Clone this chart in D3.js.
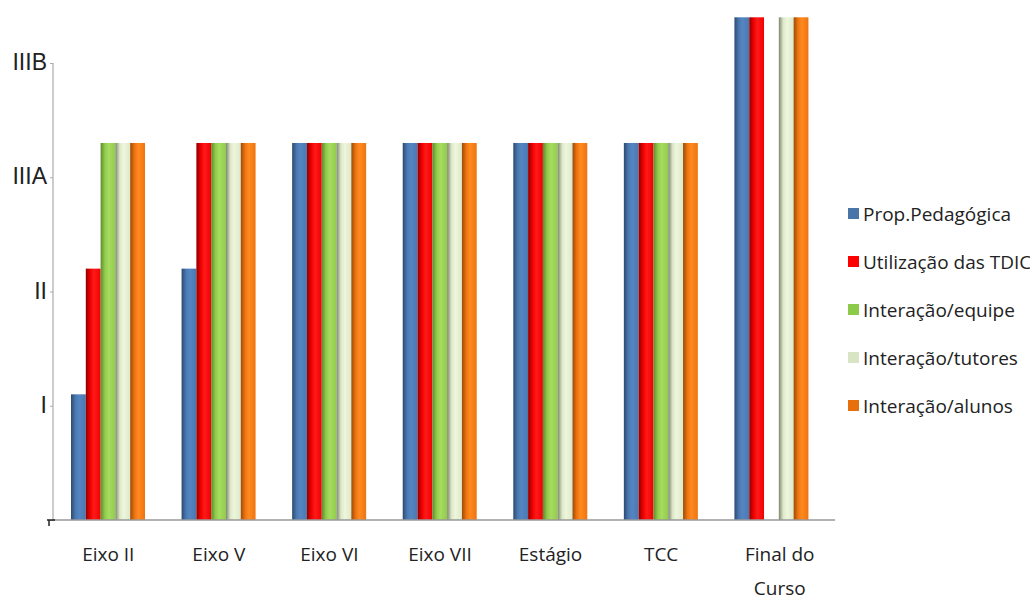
<!DOCTYPE html>
<html>
<head>
<meta charset="utf-8">
<script src="https://cdn.jsdelivr.net/npm/d3@7"></script>
<style>
  html, body { margin: 0; padding: 0; background: #fff; }
  svg { display: block; }
  text { font-family: "Open Sans", sans-serif; fill: #222; }
  .level { font-family: "Liberation Sans", Arial, sans-serif; }
</style>
</head>
<body>
<svg id="chart" width="1030" height="601"></svg>
<script>
// Course stages
const categories = ["Eixo II", "Eixo V", "Eixo VI", "Eixo VII", "Estágio", "TCC", "Final do Curso"];
const categoryLines = [["Eixo II"], ["Eixo V"], ["Eixo VI"], ["Eixo VII"], ["Estágio"], ["TCC"], ["Final do", "Curso"]];

// Series names
const seriesNames = ["Prop.Pedagógica", "Utilização das TDIC", "Interação/equipe", "Interação/tutores", "Interação/alunos"];

// Level reached by each aspect at each stage
const propPedagogica   = [1.1, 2.2, 3.3, 3.3, 3.3, 3.3, 4.4];
const utilizacaoTdic   = [2.2, 3.3, 3.3, 3.3, 3.3, 3.3, 4.4];
const interacaoEquipe  = [3.3, 3.3, 3.3, 3.3, 3.3, 3.3, 0];
const interacaoTutores = [3.3, 3.3, 3.3, 3.3, 3.3, 3.3, 4.4];
const interacaoAlunos  = [3.3, 3.3, 3.3, 3.3, 3.3, 3.3, 4.4];

// Axis levels
const tickValues = [1, 2, 3, 4];
const tickLabels = ["I", "II", "IIIA", "IIIB"];

const seriesValues = [propPedagogica, utilizacaoTdic, interacaoEquipe, interacaoTutores, interacaoAlunos];

// base / highlight / edge shade for each series
const palette = [
  { edge: "#2c4a70", mid: "#5585c2", base: "#4a78b0" },
  { edge: "#8c0000", mid: "#ff1a1a", base: "#f00000" },
  { edge: "#5f8a2e", mid: "#a6dc60", base: "#92cc4c" },
  { edge: "#7d8670", mid: "#eef6dc", base: "#dde8c8" },
  { edge: "#9a4a08", mid: "#ff8a20", base: "#ee7410" }
];
const legendColors = ["#4a75a8", "#ff0000", "#8ccb4a", "#d8e4c4", "#e8700c"];

const svg = d3.select("#chart");
const defs = svg.append("defs");
palette.forEach((p, i) => {
  const g = defs.append("linearGradient").attr("id", "grad" + i)
    .attr("x1", "0%").attr("x2", "100%").attr("y1", "0%").attr("y2", "0%");
  g.append("stop").attr("offset", "0%").attr("stop-color", p.edge);
  g.append("stop").attr("offset", "30%").attr("stop-color", p.base);
  g.append("stop").attr("offset", "55%").attr("stop-color", p.mid);
  g.append("stop").attr("offset", "100%").attr("stop-color", p.base);
});

const left = 53, bottom = 520, right = 835;

const y = d3.scaleLinear().domain([0, 4]).range([bottom, 63]);
const x0 = d3.scaleBand().domain(categories).range([left, 827]).paddingInner(0).paddingOuter(0);
const x1 = d3.scaleBand().domain(d3.range(seriesNames.length)).range([18, 92]).padding(0);

// bars
const groups = svg.append("g").selectAll("g").data(categories).join("g")
  .attr("transform", d => `translate(${x0(d)},0)`);

groups.selectAll("rect")
  .data((c, ci) => seriesValues.map((vals, si) => ({ si, v: vals[ci] })))
  .join("rect")
  .filter(d => d.v > 0)
  .attr("x", d => x1(d.si))
  .attr("width", x1.bandwidth())
  .attr("y", d => y(d.v))
  .attr("height", d => bottom - y(d.v))
  .attr("fill", d => `url(#grad${d.si})`);

// y axis
const yAxis = d3.axisLeft(y).tickValues([0].concat(tickValues)).tickSize(3).tickFormat("");
const ya = svg.append("g").attr("transform", `translate(${left},0)`).call(yAxis);
ya.select(".domain").attr("stroke", "#999").attr("d", `M0,${bottom}V${y(4)}`);
ya.selectAll(".tick line").attr("stroke", "#aaa");

svg.append("g").selectAll("text").data(tickValues).join("text")
  .attr("class", "level")
  .attr("x", 47).attr("y", d => y(d) - 1).attr("dy", "0.35em")
  .attr("text-anchor", "end").style("font-size", "23px")
  .text((d, i) => tickLabels[i]);

// x axis line
svg.append("line").attr("x1", left).attr("x2", right).attr("y1", bottom).attr("y2", bottom)
  .attr("stroke", "#999").attr("stroke-width", 1.5);
svg.append("path").attr("d", `M${left - 6},${bottom}H${left + 2}M${left - 4},${bottom}V${bottom + 6}`)
  .attr("stroke", "#222").attr("stroke-width", 1.5).attr("fill", "none");

// category labels
svg.append("g").selectAll("text").data(categories).join("text")
  .attr("x", d => x0(d) + x0.bandwidth() / 2 + (d === "Final do Curso" ? 8 : 0))
  .attr("y", 561).attr("text-anchor", "middle").style("font-size", "19px")
  .each(function (d, i) {
    const lines = categoryLines[i];
    d3.select(this).selectAll("tspan").data(lines).join("tspan")
      .attr("x", d3.select(this).attr("x")).attr("dy", (l, j) => j === 0 ? 0 : 34)
      .text(l => l);
  });

// legend
const legend = svg.append("g").selectAll("g").data(seriesNames).join("g")
  .attr("transform", (d, i) => `translate(848,${214 + i * 48})`);
legend.append("rect").attr("x", 0).attr("y", -6).attr("width", 11).attr("height", 11)
  .attr("fill", (d, i) => legendColors[i]);
legend.append("text").attr("x", 15).attr("y", 0).attr("dy", "0.35em")
  .style("font-size", "19px").text(d => d);
</script>
</body>
</html>
